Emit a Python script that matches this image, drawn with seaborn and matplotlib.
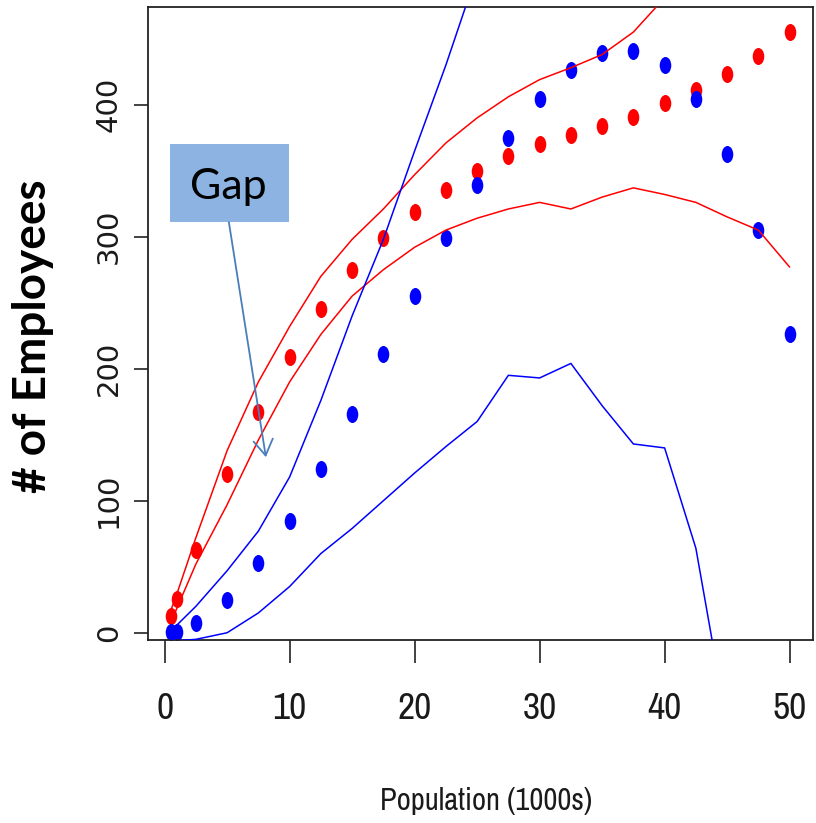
import numpy as np
import pandas as pd
import matplotlib
matplotlib.use("Agg")
import matplotlib.pyplot as plt
import seaborn as sns
from matplotlib.markers import MarkerStyle
from matplotlib.transforms import Affine2D
from matplotlib.patches import Rectangle

# ---------------- data ----------------
pop = [0.5, 1, 2.5, 5, 7.5, 10, 12.5, 15, 17.5, 20, 22.5, 25, 27.5, 30,
       32.5, 35, 37.5, 40, 42.5, 45, 47.5, 50]
red_pts = [13, 25.5, 63, 120, 167, 209, 245, 275, 299, 319, 335, 350, 361,
           370, 377, 384, 391, 401, 411, 423, 437, 455]
blue_pts = [0.5, 0.5, 7, 25, 53, 85, 124, 166, 211, 255, 299, 339, 375,
            404, 426, 439, 441, 430, 404, 363, 305, 226]

red_upper_x = pop[:18]
red_upper = [17, 30, 72, 138, 190, 232, 270, 298, 321, 347, 371, 390, 406,
             419, 428, 438, 455, 481]
red_lower_x = pop
red_lower = [8, 19, 52, 97, 146, 190, 226, 255, 275, 292, 305, 314, 321,
             326, 321, 330, 337, 332, 326, 315, 305, 277]
blue_upper_x = pop[:12]
blue_upper = [1, 6, 20, 47, 77, 118, 176, 240, 298, 365, 430, 500]
blue_lower_x = pop[:20]
blue_lower = [-5, -6, -5, 0, 15, 35, 60, 79, 100, 121, 141, 160, 195, 193,
              204, 172, 143, 140, 64, -70]

x_ticks = [0, 10, 20, 30, 40, 50]
y_ticks = [0, 100, 200, 300, 400]
x_label = "Population (1000s)"
y_label = "# of Employees"
note_text = "Gap"

# ---------------- style ----------------
sns.set_theme(style="white")
plt.rcParams["font.family"] = ["DejaVu Sans"]
NARROW = ["Archivo Narrow", "Liberation Sans Narrow", "Liberation Sans"]

fig = plt.figure(figsize=(8.16, 8.23), dpi=100)
ax = fig.add_axes([148 / 816, 1 - 640 / 823, 665 / 816, 633 / 823])

ell = MarkerStyle("o", transform=Affine2D().scale(0.68, 1.0))

df_red = pd.DataFrame({"x": pop, "y": red_pts})
df_blue = pd.DataFrame({"x": pop, "y": blue_pts})
sns.scatterplot(data=df_red, x="x", y="y", ax=ax, color="#FF0000",
                marker=ell, s=150, linewidth=0, zorder=2)
sns.scatterplot(data=df_blue, x="x", y="y", ax=ax, color="#0000FF",
                marker=ell, s=150, linewidth=0, zorder=2)

for xs, ys, col in [(red_upper_x, red_upper, "#FF0000"),
                    (red_lower_x, red_lower, "#FF0000"),
                    (blue_upper_x, blue_upper, "#0000FF"),
                    (blue_lower_x, blue_lower, "#0000FF")]:
    d = pd.DataFrame({"x": xs, "y": ys})
    sns.lineplot(data=d, x="x", y="y", ax=ax, color=col, lw=1.1,
                 sort=False, estimator=None, zorder=3)

ax.set_xlim(-1.33, 51.87)
ax.set_ylim(-5.5, 474)

ax.set_xticks(x_ticks)
ax.set_yticks(y_ticks)
ax.set_xticklabels([str(v) for v in x_ticks], family=NARROW,
                   fontsize=27, color="#1a1a1a")
ax.set_yticklabels([str(v) for v in y_ticks], fontsize=21, color="#1a1a1a",
                   rotation=90, va="center", ha="right")

ax.tick_params(axis="x", which="major", length=16.5, width=1.2,
               color="#222222", pad=21, bottom=True)
ax.tick_params(axis="y", which="major", length=10, width=1.2,
               color="#222222", pad=8, left=True)

for sp in ax.spines.values():
    sp.set_visible(True)
    sp.set_color("#222222")
    sp.set_linewidth(1.3)

ax.set_xlabel(x_label, family=NARROW, fontsize=22, color="#1a1a1a")
ax.xaxis.set_label_coords(0.508, -0.232)
ax.set_ylabel(y_label, family=["Lato", "DejaVu Sans"], fontweight="bold",
              fontsize=33, color="black")
ax.yaxis.set_label_coords(-0.142, 0.48)

# Gap callout
ax.add_patch(Rectangle((0.42, 311), 9.52, 59, facecolor="#8DB3E2",
                       edgecolor="none", zorder=5))
ax.text(5.06, 328.6, note_text, family=["Lato", "DejaVu Sans"], fontsize=31,
        ha="center", va="baseline", color="black", zorder=6)
ax.annotate("", xy=(8.1, 133), xytext=(5.14, 311),
            arrowprops=dict(arrowstyle="->,head_length=0.4,head_width=0.25",
                            color="#4A7EBB", lw=1.3, mutation_scale=28,
                            shrinkA=0, shrinkB=0), zorder=6)

fig.savefig("out.png", dpi=100)
